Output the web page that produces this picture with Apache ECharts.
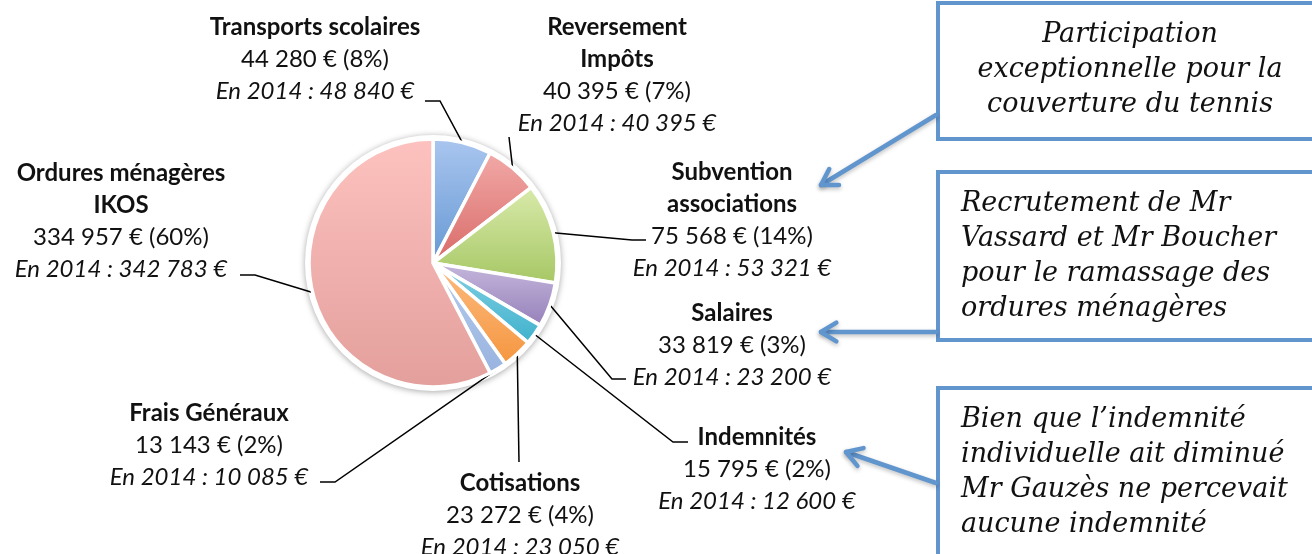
<!DOCTYPE html>
<html>
<head>
<meta charset="utf-8">
<script src="https://cdn.jsdelivr.net/npm/echarts@6/dist/echarts.min.js"></script>
<style>
  html, body { margin: 0; padding: 0; background: #fff; }
  #chart { width: 1312px; height: 554px; }
</style>
</head>
<body>
<div id="chart"></div>
<script>
// données du graphique
const categories = [
  "Transports scolaires",
  "Reversement\nImpôts",
  "Subvention\nassociations",
  "Salaires",
  "Indemnités",
  "Cotisations",
  "Frais Généraux",
  "Ordures ménagères\nIKOS"
]
const values2015 = [44280, 40395, 75568, 33819, 15795, 23272, 13143, 334957]
const percents = [8, 7, 14, 3, 2, 4, 2, 60]
const values2014 = [48840, 40395, 53321, 23200, 12600, 23050, 10085, 342783]

// couleurs des parts (haut -> bas du dégradé)
const colors = [
  ["#aac6ef", "#6598d3"],
  ["#f2aaa8", "#d86a67"],
  ["#d9eaab", "#a6c764"],
  ["#c6b8dd", "#9580b9"],
  ["#86d2e3", "#3fb1cd"],
  ["#fcbc82", "#f5963f"],
  ["#b7cdee", "#98b3df"],
  ["#fdc2bf", "#e39f9c"]
]

// position des étiquettes : centre x, haut y
const labelPos = [
  [315, 11], [617, 11], [732, 156], [732, 297],
  [757, 421], [520, 467], [209, 397], [121, 157]
]
// lignes de rappel : coude puis extrémité
const leaderEnds = [
  [[440, 101], [425, 101]],
  [[509, 137], [509, 137]],
  [[632, 240], [646, 240]],
  [[612, 379], [626, 379]],
  [[673, 442], [688, 442]],
  [[519, 462], [519, 462]],
  [[335, 482], [320, 482]],
  [[255, 275], [240, 275]]
]

const CX = 433, CY = 263, R = 124
const BLUE = "#6095ce"

const fmt = (n) => String(n).replace(/\B(?=(\d{3})+(?!\d))/g, " ")

const chart = echarts.init(document.getElementById("chart"))

// flèche bleue avec pointe ouverte
const arrow = (x1, y1, x2, y2) => {
  const a = Math.atan2(y2 - y1, x2 - x1)
  const L = 18, s = 0.55
  const p1 = [x2 - L * Math.cos(a - s), y2 - L * Math.sin(a - s)]
  const p2 = [x2 - L * Math.cos(a + s), y2 - L * Math.sin(a + s)]
  const st = { stroke: BLUE, lineWidth: 4.5, lineCap: "round", lineJoin: "round",
    shadowBlur: 4, shadowColor: "rgba(0,0,0,0.25)", shadowOffsetY: 2 }
  return [
    { type: "line", shape: { x1, y1, x2, y2 }, style: st, z: 5 },
    { type: "polyline", shape: { points: [p1, [x2, y2], p2] }, style: { ...st, fill: null }, z: 5 }
  ]
}

const box = (y, h, text, align) => ({
  type: "group",
  children: [
    { type: "rect", shape: { x: 938, y, width: 400, height: h },
      style: { fill: "#fff", stroke: BLUE, lineWidth: 4 } },
    { type: "text",
      x: align === "center" ? 1130 : 961, y: y + 14,
      style: { text, font: "italic 27px 'DejaVu Serif'", fill: "#111",
        align, lineHeight: 35 } }
  ]
})

const option = {
  backgroundColor: "#fff",
  graphic: [
    { type: "circle", shape: { cx: CX, cy: CY, r: R + 4 },
      style: { fill: "#fff", shadowBlur: 6, shadowColor: "rgba(0,0,0,0.35)", shadowOffsetY: 1 }, z: 0 },
    box(3, 136, "Participation\nexceptionnelle pour la\ncouverture du tennis", "center"),
    box(172, 168, "Recrutement de Mr\nVassard et Mr Boucher\npour le ramassage des\nordures ménagères", "left"),
    box(388, 200, "Bien que l’indemnité\nindividuelle ait diminué\nMr Gauzès ne percevait\naucune indemnité", "left"),
    ...arrow(936, 115, 821, 185),
    ...arrow(936, 332, 821, 332),
    ...arrow(936, 483, 846, 452)
  ],
  series: [
    {
      type: "pie",
      center: [CX, CY],
      radius: R,
      startAngle: 90,
      clockwise: true,
      z: 3,
      animation: false,
      silent: true,
      itemStyle: { borderColor: "#fff", borderWidth: 3.5 },
      label: {
        show: true,
        position: "outside",
        fontFamily: "Lato",
        formatter: (p) => {
          const i = p.dataIndex
          return "{b|" + categories[i] + "}\n{v|" + fmt(values2015[i]) + " € (" + percents[i] + "%)}\n{i|En 2014 : " + fmt(values2014[i]) + " €}"
        },
        rich: {
          b: { fontFamily: "Lato", fontWeight: "bold", fontSize: 24, lineHeight: 32, color: "#111", align: "center" },
          v: { fontFamily: "Lato", fontSize: 24, lineHeight: 32, color: "#111", align: "center" },
          i: { fontFamily: "Lato", fontStyle: "italic", fontSize: 24, lineHeight: 32, color: "#111", align: "center" }
        }
      },
      labelLine: { show: true, lineStyle: { color: "#000", width: 1.5 } },
      labelLayout: (params) => {
        const i = params.dataIndex
        const p0 = params.labelLinePoints ? params.labelLinePoints[0] : [CX, CY]
        return {
          x: labelPos[i][0],
          y: labelPos[i][1],
          align: "center",
          verticalAlign: "top",
          labelLinePoints: [p0, leaderEnds[i][0], leaderEnds[i][1]]
        }
      },
      data: values2015.map((v, i) => ({
        value: v,
        name: categories[i],
        itemStyle: {
          color: new echarts.graphic.LinearGradient(0, 0, 0, 1, [
            { offset: 0, color: colors[i][0] },
            { offset: 1, color: colors[i][1] }
          ])
        }
      }))
    }
  ]
}

chart.setOption(option)
</script>
</body>
</html>
